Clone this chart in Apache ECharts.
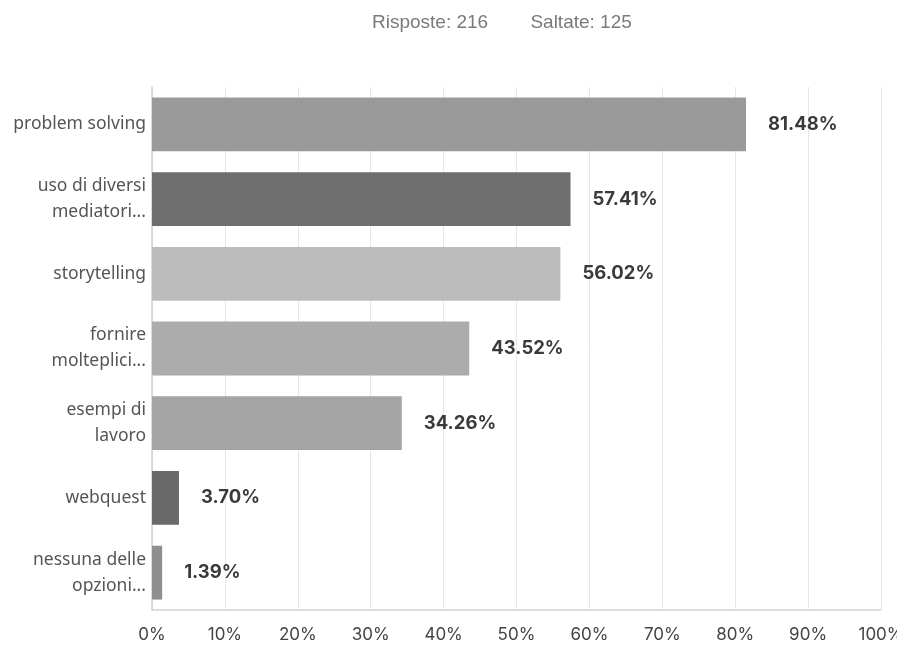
<!DOCTYPE html>
<html>
<head>
<meta charset="utf-8">
<script src="https://cdn.jsdelivr.net/npm/echarts@6/dist/echarts.min.js"></script>
<style>
  html, body { margin: 0; padding: 0; background: #fff; }
  #chart { width: 897px; height: 647px; }
</style>
</head>
<body>
<div id="chart"></div>
<script>
// Survey answers, top to bottom
const categories = [
  'problem solving',
  'uso di diversi\nmediatori...',
  'storytelling',
  'fornire\nmolteplici...',
  'esempi di\nlavoro',
  'webquest',
  'nessuna delle\nopzioni...'
];
const percentages = [81.48, 57.41, 56.02, 43.52, 34.26, 3.70, 1.39];
const barColors = ['#9a9a9a', '#6e6e6e', '#bcbcbc', '#acacac', '#a4a4a4', '#6a6a6a', '#8e8e8e'];
const answered = 216;
const skipped = 125;
const xTicks = [0, 10, 20, 30, 40, 50, 60, 70, 80, 90, 100];

const chart = echarts.init(document.getElementById('chart'), null, { renderer: 'canvas' });

chart.setOption({
  animation: false,
  title: {
    text: 'Risposte: ' + answered + '        Saltate: ' + skipped,
    left: 367,
    top: 8,
    textStyle: { fontFamily: 'Liberation Sans', fontSize: 19, fontWeight: 'normal', color: '#7a7a7a' }
  },
  grid: { left: 152, right: 16, top: 87, bottom: 37, containLabel: false, outerBoundsMode: 'none' },
  xAxis: {
    type: 'value',
    min: xTicks[0],
    max: xTicks[xTicks.length - 1],
    interval: 10,
    axisLabel: {
      formatter: v => v + '%',
      color: '#444',
      fontFamily: 'Inter',
      fontSize: 17,
      margin: 16
    },
    axisLine: { show: false },
    axisTick: { show: false },
    splitLine: { show: true, lineStyle: { color: '#e6e6e6', width: 1 } }
  },
  yAxis: {
    type: 'category',
    data: categories,
    inverse: true,
    axisLine: { show: true, lineStyle: { color: '#d0d0d0', width: 1.5 } },
    axisTick: { show: false },
    axisLabel: {
      color: '#555',
      fontFamily: 'Noto Sans',
      fontSize: 17.5,
      lineHeight: 26,
      margin: 6,
      align: 'right'
    }
  },
  series: [{
    type: 'bar',
    barCategoryGap: '28%',
    data: percentages.map((v, i) => ({ value: v, itemStyle: { color: barColors[i] } })),
    label: {
      show: true,
      position: 'right',
      distance: 22,
      formatter: p => p.value.toFixed(2) + '%',
      color: '#3a3a3a',
      fontFamily: 'Inter',
      fontWeight: 'bold',
      fontSize: 18.5
    }
  }],
  graphic: [{
    type: 'line',
    shape: { x1: 152, y1: 610, x2: 881, y2: 610 },
    style: { stroke: '#d0d0d0', lineWidth: 1.5 }
  }]
});
</script>
</body>
</html>
